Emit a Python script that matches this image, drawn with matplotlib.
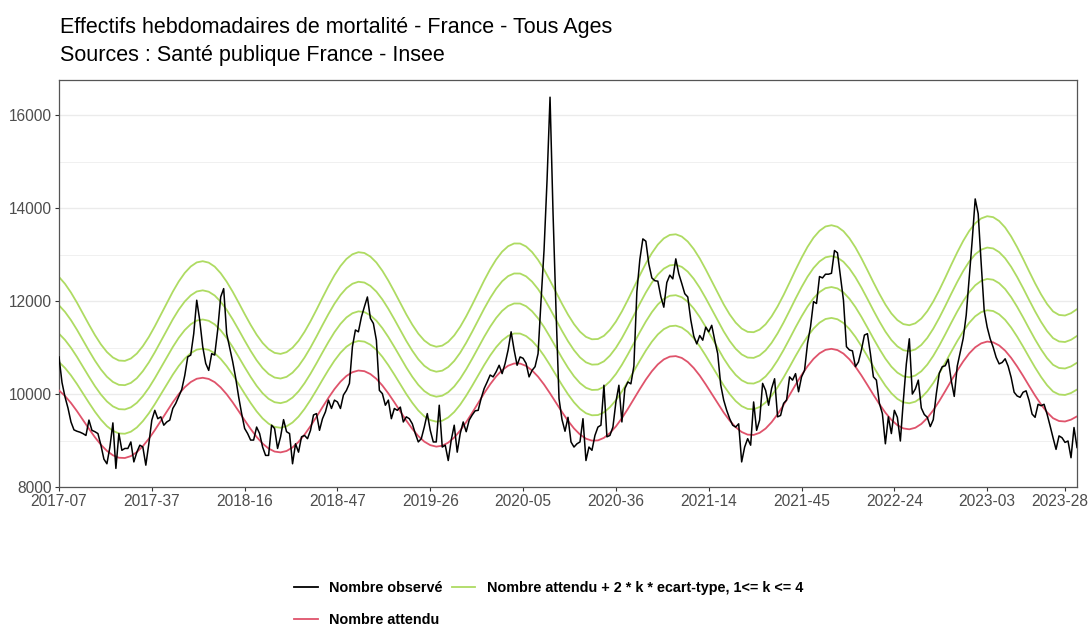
import matplotlib.pyplot as plt
import numpy as np
from matplotlib.lines import Line2D

plt.rcParams['font.family'] = ['Liberation Sans', 'DejaVu Sans']

# semaines affichees sur l'axe x (index de semaine depuis 2017-07)
tick_weeks = [0, 31, 62, 93, 124, 155, 186, 217, 248, 279, 310, 336]
tick_labels = ["2017-07", "2017-37", "2018-16", "2018-47", "2019-26", "2020-05",
               "2020-36", "2021-14", "2021-45", "2022-24", "2023-03", "2023-28"]

# nombre observe, une valeur par semaine (341 semaines)
observed = [
    10800, 10250, 9940, 9700, 9400, 9230, 9200, 9180, 9150, 9110,
    9440, 9220, 9190, 9150, 8900, 8600, 8500, 8860, 9380, 8400,
    9150, 8790, 8830, 8830, 8970, 8540, 8750, 8900, 8860, 8470,
    8930, 9440, 9650, 9470, 9510, 9330, 9400, 9440, 9690, 9800,
    9950, 10100, 10400, 10800, 10840, 11300, 12020, 11590, 11020, 10660,
    10510, 10870, 10840, 11380, 12090, 12270, 11300, 11000, 10700, 10350,
    9940, 9580, 9260, 9150, 9010, 9010, 9290, 9150, 8860, 8680,
    8680, 9330, 9260, 8830, 9080, 9450, 9190, 9150, 8500, 8930,
    8750, 9080, 9110, 9040, 9220, 9550, 9580, 9220, 9470, 9620,
    9870, 9690, 9870, 9830, 9690, 9980, 10080, 10230, 11020, 11380,
    11340, 11660, 11880, 12090, 11630, 11520, 11160, 10080, 10010, 9760,
    9870, 9470, 9690, 9650, 9720, 9400, 9510, 9470, 9360, 9150,
    8970, 9040, 9290, 9580, 9220, 8970, 8970, 9760, 8860, 8900,
    8570, 9010, 9330, 8750, 9150, 9400, 9190, 9440, 9550, 9640,
    9650, 9910, 10120, 10260, 10410, 10370, 10480, 10620, 10440, 10660,
    10950, 11340, 10950, 10620, 10800, 10770, 10660, 10370, 10510, 10590,
    10870, 12020, 13100, 14600, 16390, 13900, 11800, 9900, 9450, 9200,
    9500, 8970, 8860, 8930, 8970, 9470, 8570, 8860, 8790, 9110,
    9290, 9330, 10190, 9080, 9110, 9290, 9830, 10190, 9400, 10120,
    10260, 10220, 10600, 12200, 12900, 13340, 13290, 12800, 12500, 12440,
    12430, 12100, 11870, 12400, 12560, 12480, 12910, 12590, 12380, 12160,
    12090, 11600, 11250, 11080, 11260, 11160, 11440, 11340, 11480, 11160,
    10870, 10200, 9870, 9650, 9470, 9330, 9290, 9360, 8540, 8860,
    9040, 8900, 9830, 9220, 9440, 10230, 10080, 9760, 10120, 10330,
    9510, 9540, 9800, 9870, 10370, 10300, 10440, 10050, 10370, 10510,
    11090, 11450, 11990, 11950, 12530, 12500, 12580, 12580, 12600, 13090,
    13040, 12530, 12020, 11020, 10950, 10930, 10590, 10690, 10950, 11270,
    11300, 10870, 10370, 10300, 9800, 9580, 8930, 9510, 9150, 9650,
    9500, 8990, 9860, 10650, 11190, 10000, 10110, 10300, 9700, 9560,
    9500, 9300, 9450, 10000, 10450, 10590, 10610, 10750, 10290, 9950,
    10600, 10900, 11200, 11700, 12500, 13310, 14200, 13880, 12810, 11800,
    11440, 11190, 11010, 10790, 10650, 10680, 10760, 10600, 10360, 10040,
    9960, 9930, 10040, 10070, 9860, 9570, 9500, 9780, 9750, 9780,
    9570, 9320, 9060, 8810, 9100, 9060, 8960, 8990, 8630, 9280,
    8850,
]

# nombre attendu, lu toutes les 2 semaines
exp_step = 2
expected = [
    10078, 9959, 9808, 9633, 9443, 9253, 9071, 8910, 8778, 8683,
    8630, 8624, 8665, 8751, 8879, 9038, 9223, 9423, 9627, 9822,
    10000, 10148, 10259, 10330, 10351, 10326, 10257, 10143, 9996, 9823,
    9633, 9437, 9249, 9078, 8935, 8828, 8763, 8745, 8775, 8852,
    8971, 9127, 9310, 9510, 9718, 9920, 10107, 10266, 10390, 10471,
    10507, 10493, 10431, 10328, 10185, 10014, 9824, 9626, 9429, 9251,
    9096, 8977, 8901, 8869, 8888, 8955, 9065, 9215, 9396, 9597,
    9807, 10017, 10211, 10380, 10516, 10610, 10658, 10657, 10606, 10509,
    10374, 10206, 10015, 9815, 9613, 9425, 9261, 9130, 9040, 8998,
    9003, 9058, 9162, 9304, 9481, 9682, 9894, 10109, 10312, 10491,
    10639, 10746, 10806, 10817, 10778, 10691, 10561, 10398, 10208, 10005,
    9800, 9603, 9429, 9287, 9184, 9127, 9121, 9166, 9258, 9395,
    9567, 9765, 9980, 10200, 10409, 10599, 10758, 10877, 10952, 10974,
    10947, 10871, 10748, 10589, 10401, 10196, 9986, 9785, 9600, 9446,
    9331, 9261, 9242, 9275, 9357, 9485, 9653, 9850, 10065, 10288,
    10504, 10703, 10875, 11007, 11092, 11130, 11114, 11047, 10935, 10780,
    10595, 10391, 10177, 9968, 9776, 9609, 9481, 9420, 9410, 9450,
    9520,
]

# ecart-type relatif au nombre attendu
cv = 0.0303

obs = np.array(observed, dtype=float)
exp = np.array(expected, dtype=float)
x_obs = np.arange(len(obs))
x_exp = np.arange(len(exp)) * exp_step

c_obs = 'black'
c_exp = '#DF536B'
c_seuil = '#AEDB62'

fig = plt.figure(figsize=(10.89, 6.26), dpi=100)
ax = fig.add_axes([59 / 1089, 1 - 487 / 626, (1077 - 59) / 1089, (487 - 80) / 626])

for k in range(1, 5):
    ax.plot(x_exp, exp * (1 + 2 * k * cv), color=c_seuil, lw=1.3, zorder=2)
ax.plot(x_exp, exp, color=c_exp, lw=1.3, zorder=3)
ax.plot(x_obs, obs, color=c_obs, lw=1.1, zorder=4)

ax.set_xlim(0, len(obs) - 1)
ax.set_ylim(8000, 16760)
ax.set_yticks([8000, 10000, 12000, 14000, 16000])
ax.set_yticks([9000, 11000, 13000, 15000], minor=True)
ax.set_xticks(tick_weeks)
# le dernier label est pose a part pour qu'il ne soit pas coupe au bord
ax.set_xticklabels(tick_labels[:-1] + [""])
ax.annotate(tick_labels[-1], xy=(tick_weeks[-1], 0), xycoords=('data', 'axes fraction'),
            xytext=(-3.5, -5.0), textcoords='offset points', ha='center', va='top',
            fontsize=11.2, color='#4D4D4D')

ax.grid(axis='y', which='major', color='#EBEBEB', lw=1.0)
ax.grid(axis='y', which='minor', color='#F0F0F0', lw=0.7)
ax.set_axisbelow(True)
for s in ax.spines.values():
    s.set_color('#555555')
    s.set_linewidth(0.9)
ax.tick_params(axis='both', which='major', colors='#333333', labelcolor='#4D4D4D',
               labelsize=11.2, length=3, width=0.8, pad=2)
ax.tick_params(axis='y', which='minor', length=0)

fig.text(60 / 1089, 1 - 27 / 626, "Effectifs hebdomadaires de mortalité - France - Tous Ages",
         fontsize=15.5, va='center', ha='left')
fig.text(60 / 1089, 1 - 55 / 626, "Sources : Santé publique France - Insee",
         fontsize=15.5, va='center', ha='left')

handles = [Line2D([], [], color=c_obs, lw=1.3),
           Line2D([], [], color=c_exp, lw=1.3),
           Line2D([], [], color=c_seuil, lw=1.3)]
labels = ["Nombre observé", "Nombre attendu",
          "Nombre attendu + 2 * k * ecart-type, 1<= k <= 4"]
fig.legend(handles, labels, ncol=2, loc='upper left',
           bbox_to_anchor=(294 / 1089, 1 - 581 / 626), frameon=False,
           prop={'weight': 'bold', 'size': 10.4}, handlelength=1.65,
           handletextpad=0.8, columnspacing=0.6, labelspacing=1.25,
           borderpad=0, borderaxespad=0)

fig.savefig('out.png', dpi=100)
